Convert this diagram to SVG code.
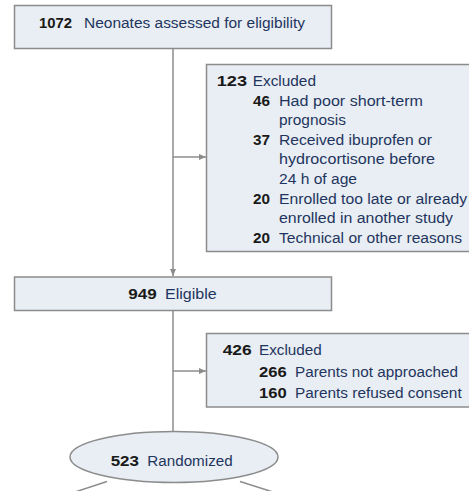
<svg xmlns="http://www.w3.org/2000/svg" width="469" height="491" viewBox="0 0 469 491">
<style>
.box{fill:#e8eef3;stroke:#8c8c8c;stroke-width:1.5}
.ln{fill:none;stroke:#8c8c8c;stroke-width:1.5}
text{font-family:"Liberation Sans",Arial,sans-serif;font-size:14px;fill:#1f3560}
.n{font-weight:bold;fill:#1a1a1a}
</style>
<defs>
<marker id="ah" markerWidth="8" markerHeight="8" refX="7" refY="4" orient="auto" markerUnits="userSpaceOnUse">
<path d="M0,1 L7,4 L0,7 Z" fill="#8c8c8c"/>
</marker>
</defs>
<rect width="469" height="491" fill="#ffffff"/>
<g id="connectors">
<line class="ln" x1="173" y1="49" x2="173" y2="276" marker-end="url(#ah)"/>
<line class="ln" x1="173" y1="157" x2="206" y2="157" marker-end="url(#ah)"/>
<line class="ln" x1="173" y1="311" x2="173" y2="431"/>
<line class="ln" x1="173" y1="371" x2="206" y2="371" marker-end="url(#ah)"/>
<line class="ln" x1="107" y1="481.5" x2="75" y2="492"/>
<line class="ln" x1="240" y1="481.5" x2="273" y2="492"/>
</g>
<g id="assessed">
<rect class="box" x="14.5" y="5.5" width="317" height="43"/>
<text class="n" x="39" y="28" textLength="33" lengthAdjust="spacingAndGlyphs">1072</text>
<text x="84" y="28" textLength="221" lengthAdjust="spacingAndGlyphs">Neonates assessed for eligibility</text>
</g>
<g id="excluded1">
<rect class="box" x="206.5" y="64.5" width="280" height="187"/>
<text class="n" x="216.7" y="86" textLength="30.3" lengthAdjust="spacingAndGlyphs">123</text>
<text x="252.7" y="86" textLength="63.3" lengthAdjust="spacingAndGlyphs">Excluded</text>
<text class="n" x="253" y="105.6" textLength="17" lengthAdjust="spacingAndGlyphs">46</text>
<text x="279" y="105.6" textLength="144" lengthAdjust="spacingAndGlyphs">Had poor short-term</text>
<text x="279" y="125.2" textLength="67" lengthAdjust="spacingAndGlyphs">prognosis</text>
<text class="n" x="253" y="144.8" textLength="17" lengthAdjust="spacingAndGlyphs">37</text>
<text x="279" y="144.8" textLength="153" lengthAdjust="spacingAndGlyphs">Received ibuprofen or</text>
<text x="279" y="164.4" textLength="156" lengthAdjust="spacingAndGlyphs">hydrocortisone before</text>
<text x="279" y="184" textLength="78" lengthAdjust="spacingAndGlyphs">24 h of age</text>
<text class="n" x="253" y="203.6" textLength="17" lengthAdjust="spacingAndGlyphs">20</text>
<text x="279" y="203.6" textLength="188" lengthAdjust="spacingAndGlyphs">Enrolled too late or already</text>
<text x="279" y="223.2" textLength="174" lengthAdjust="spacingAndGlyphs">enrolled in another study</text>
<text class="n" x="253" y="242.8" textLength="17" lengthAdjust="spacingAndGlyphs">20</text>
<text x="279" y="242.8" textLength="183" lengthAdjust="spacingAndGlyphs">Technical or other reasons</text>
</g>
<g id="eligible">
<rect class="box" x="14.5" y="277" width="317" height="33.5"/>
<text class="n" x="128.3" y="298.5" textLength="28.4" lengthAdjust="spacingAndGlyphs">949</text>
<text x="165" y="298.5" textLength="51.7" lengthAdjust="spacingAndGlyphs">Eligible</text>
</g>
<g id="excluded2">
<rect class="box" x="206.5" y="333.5" width="280" height="73.5"/>
<text class="n" x="222.7" y="355" textLength="29" lengthAdjust="spacingAndGlyphs">426</text>
<text x="259" y="355" textLength="62.7" lengthAdjust="spacingAndGlyphs">Excluded</text>
<text class="n" x="259" y="376.7" textLength="27.7" lengthAdjust="spacingAndGlyphs">266</text>
<text x="295" y="376.7" textLength="163" lengthAdjust="spacingAndGlyphs">Parents not approached</text>
<text class="n" x="259" y="398.3" textLength="27.7" lengthAdjust="spacingAndGlyphs">160</text>
<text x="295" y="398.3" textLength="166.7" lengthAdjust="spacingAndGlyphs">Parents refused consent</text>
</g>
<g id="randomized">
<ellipse class="box" cx="174" cy="457" rx="104" ry="25.5"/>
<text class="n" x="110.7" y="466" textLength="28.3" lengthAdjust="spacingAndGlyphs">523</text>
<text x="147.3" y="466" textLength="85.4" lengthAdjust="spacingAndGlyphs">Randomized</text>
</g>
</svg>
